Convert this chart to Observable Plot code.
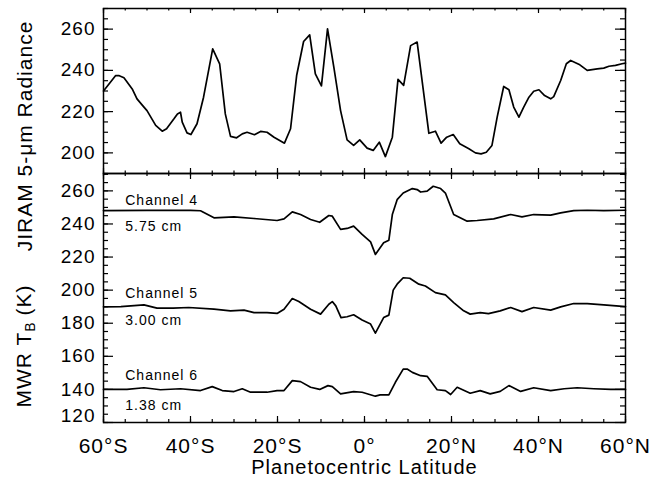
<!DOCTYPE html>
<html><head><meta charset="utf-8">
<script src="https://cdn.jsdelivr.net/npm/d3@7"></script>
<script src="https://cdn.jsdelivr.net/npm/@observablehq/plot@0.6"></script>
<style>
body{margin:0;background:#fff;}
#chart{position:relative;width:651px;height:487px;font-family:"Liberation Sans",Arial,Helvetica,sans-serif;color:#000;}
#chart svg{position:absolute;left:0;overflow:visible;}
#chart svg text{letter-spacing:1px;}
#chart svg g[aria-label="channel labels"] text{letter-spacing:0;}
.ylab{position:absolute;font-size:21px;letter-spacing:1px;white-space:nowrap;transform:translate(-50%,-50%) rotate(-90deg);}
.ylab sub{font-size:14px;vertical-align:-4px;letter-spacing:0;}
</style></head><body><div id="chart"></div>
<script>
// ---- data ----
const jiramLat = [-60,-57.2,-56.5,-55.3,-53.4,-52.3,-50.7,-50,-48,-46.5,-45.5,-43.8,-43,-42.3,-41.9,-40.8,-39.9,-38.5,-37,-34.9,-33.3,-32,-30.8,-29.4,-28.1,-27,-25.3,-23.9,-22.4,-20.8,-18.4,-17,-15.6,-14,-12.6,-11.3,-9.9,-8.5,-7.05,-5.5,-4,-2.5,-1.1,0.6,2,3.4,4.8,6.4,7.7,9,10.6,12.1,14.8,16.3,17.6,18.9,20.4,21.9,24,25.5,26.8,28,29.3,30.5,32,33.2,34.3,35.5,36.6,37.8,38.9,40.1,41.4,42.8,43.5,45.1,46.4,47.4,49.5,51.2,53.5,55,56.2,57.7,59.2,60];
const jiramRad = [230,237.5,237.5,236.4,231,226.2,222.2,220.5,213.3,210.5,211.7,216.5,218.9,219.7,214.9,209.7,208.9,214.1,227,250.4,243.2,218.9,208,207.3,209.2,210,208.8,210.4,210,207.6,204.7,211.7,237.5,254,257.2,238.3,232.5,260.1,241.6,220.5,206.3,203.6,206.3,202.3,201.2,205.2,198.2,207.6,235.6,232.7,252,253.7,209.5,210.5,204.7,207.6,208.9,204.4,202,200,199.5,200.3,203.6,217.3,232.2,230.6,222.2,217.3,222.2,227,229.9,230.6,227.8,226.2,227.3,235.1,243.2,244.8,242.7,240,240.7,241.1,242,242.4,243.2,243.5];

const ch4Lat = [-60,-50,-40,-37.7,-34.6,-30,-25.4,-20.1,-18.5,-16.6,-14.7,-12.4,-10.3,-8.2,-7.4,-5.5,-4,-2.5,-0.55,1.4,2.5,4.4,5.6,6.4,7.5,8.9,11,12.1,12.9,14.4,15.8,17.5,18.6,20.5,23.6,25.9,29.7,33.6,36.2,38.9,42.8,45.1,48.1,51.2,55,60];
const ch4Tb  = [248.1,248.2,248.2,248,243.7,244.3,243.3,242.1,243.1,247.3,245.7,242.7,241,245.1,244.7,236.7,237.3,238.7,233.7,229.2,221.6,228.6,230.2,245.7,254.7,258.7,261.4,260.8,259.3,259.8,262.8,261.4,258.7,245.7,241.7,242.1,243.1,245.7,244.3,245.7,245.3,246.7,248.1,248.3,248.1,248.3];

const ch5Lat = [-60,-56,-50.7,-47.7,-44,-40.4,-34.6,-30.8,-27.7,-25.4,-22.4,-20.1,-18.5,-16.6,-15.1,-12.4,-10.1,-8.2,-7.4,-6.6,-5.4,-4,-2.5,-0.55,1.4,2.5,4.4,5.6,6.6,7.5,8.9,10.4,12.5,14,16.3,18.6,20.5,22.8,24.3,26.6,28.5,31.2,33.6,36.2,38.9,42.8,45.1,48.1,51.2,55,60];
const ch5Tb  = [189.9,190,191.1,189.1,189.1,189.5,188.5,187.5,187.9,186.4,186.4,185.9,188.5,194.9,193.1,188.5,185.5,191.5,193.1,190.5,183.4,183.9,185.1,181.9,179.5,174,183.4,184.9,200,203.6,207.5,207.2,203.6,202.5,198.5,197.1,192.5,187.5,185.5,186.4,185.8,187.5,189.5,187,189.5,187.9,189.9,191.9,191.9,191.1,190];

const ch6Lat = [-60,-54.6,-50.7,-46.9,-42.3,-37.7,-35,-32.7,-30,-28.1,-26.2,-22.4,-20.1,-18.5,-16.6,-14.7,-12.4,-10.3,-8.4,-7.4,-5.5,-2.5,-0.55,2.5,3.6,5.6,7.1,8.9,9.8,11,12.9,14.4,16.7,18.6,19.8,21.3,24.3,26.6,28.9,31.2,33.2,35.9,38.9,42.8,45.9,48.9,52.7,56.6,60];
const ch6Tb  = [140,140,141,139.8,140.4,139.3,141.7,139.3,138.7,140.4,138.3,138.3,139.3,139.3,145.3,144.7,141.3,140,142.3,141.7,137.3,138.7,138.3,135.9,136.7,136.7,144.3,152.3,152.3,150.3,148.3,147.9,139.8,139.3,136.9,141.3,137.7,139.3,137.3,138.8,142.3,138.8,141,139.3,140.4,141,140.4,140,140];

const channelText = ["Channel 4","5.75 cm","Channel 5","3.00 cm","Channel 6","1.38 cm"];
const channelTextLat = [-55,-55,-55,-55,-55,-55];
const channelTextTb = [254.3,238.7,197.7,181.4,148.3,130.2];

const xMajorTicks = [-60,-40,-20,0,20,40,60];
const xMinorTicks = d3.range(-60,61,5);
const yTopLabels = [200,220,240,260];
const yTopMinor = d3.range(190,271,5);
const yBotLabels = [140,160,180,200,220,240,260];
const yBotLowLabel = [120];
const yBotMajor = [120,140,160,180,200,220,240,260];
const yBotMinor = d3.range(120,271,5);

// ---- layout ----
const W = 651, H_TOP = 173, H_BOT = 314;
const ML = 103, MR = 26, MT = 8, MB = 65;
const innerW = W - ML - MR;
const innerTop = H_TOP - MT;
const innerBot = H_BOT - MB;
const svgStyle = "font-family:'Liberation Sans',Arial,Helvetica,sans-serif;font-size:19px;overflow:visible;background:none;";

const toRows = (xs, ys) => xs.map((x, i) => ({lat: x, v: ys[i]}));
const fmtLat = d => d === 0 ? "0°" : Math.abs(d) + "°" + (d < 0 ? "S" : "N");

function tickMarks(innerH, yMajor, yMinor, xMajLen, xMinLen) {
  const s = {stroke: "#000", strokeWidth: 1.2};
  return [
    Plot.tickX(xMinorTicks, {x: d => d, insetBottom: innerH - xMinLen, ...s}),
    Plot.tickX(xMinorTicks, {x: d => d, insetTop: innerH - xMinLen, ...s}),
    Plot.tickX(xMajorTicks, {x: d => d, insetBottom: innerH - xMajLen, ...s}),
    Plot.tickX(xMajorTicks, {x: d => d, insetTop: innerH - xMajLen, ...s}),
    Plot.tickY(yMinor, {y: d => d, insetRight: innerW - 5, ...s}),
    Plot.tickY(yMinor, {y: d => d, insetLeft: innerW - 5, ...s}),
    Plot.tickY(yMajor, {y: d => d, insetRight: innerW - 10, ...s}),
    Plot.tickY(yMajor, {y: d => d, insetLeft: innerW - 10, ...s})
  ];
}

const topPlot = Plot.plot({
  width: W, height: H_TOP,
  marginLeft: ML, marginRight: MR, marginTop: MT, marginBottom: 0,
  style: svgStyle,
  x: {domain: [-60, 60], axis: null},
  y: {domain: [190, 270]},
  marks: [
    ...tickMarks(innerTop, yTopLabels, yTopMinor, 5, 2.5),
    Plot.axisY(yTopLabels, {tickSize: 0, tickPadding: 8, label: null}),
    Plot.line(toRows(jiramLat, jiramRad), {x: "lat", y: "v", stroke: "#000", strokeWidth: 1.7}),
    Plot.frame({stroke: "#000", strokeWidth: 1.5})
  ]
});

const botPlot = Plot.plot({
  width: W, height: H_BOT,
  marginLeft: ML, marginRight: MR, marginTop: 0, marginBottom: MB,
  style: svgStyle,
  x: {domain: [-60, 60]},
  y: {domain: [120, 270.5]},
  marks: [
    ...tickMarks(innerBot, yBotMajor, yBotMinor, 6, 3),
    Plot.axisY(yBotLabels, {tickSize: 0, tickPadding: 8, label: null}),
    Plot.axisY(yBotLowLabel, {tickSize: 0, tickPadding: 8, dy: -7, label: null}),
    Plot.axisX(xMajorTicks, {tickSize: 0, tickPadding: 16, tickFormat: fmtLat, fontSize: 21, label: null}),
    Plot.text(["Planetocentric Latitude"], {frameAnchor: "bottom", lineAnchor: "middle", dy: 45, fontSize: 20, fill: "#000"}),
    Plot.line(toRows(ch4Lat, ch4Tb), {x: "lat", y: "v", stroke: "#000", strokeWidth: 1.7}),
    Plot.line(toRows(ch5Lat, ch5Tb), {x: "lat", y: "v", stroke: "#000", strokeWidth: 1.7}),
    Plot.line(toRows(ch6Lat, ch6Tb), {x: "lat", y: "v", stroke: "#000", strokeWidth: 1.7}),
    Plot.text(channelText.map((t, i) => ({t, lat: channelTextLat[i], v: channelTextTb[i]})),
      {x: "lat", y: "v", text: "t", textAnchor: "start", fontSize: 14, fill: "#000", ariaLabel: "channel labels"}),
    Plot.frame({stroke: "#000", strokeWidth: 1.5})
  ]
});

const chart = document.getElementById("chart");
topPlot.style.top = "0px";
botPlot.style.top = H_TOP + "px";
chart.appendChild(topPlot);
chart.appendChild(botPlot);

const l1 = document.createElement("div");
l1.className = "ylab"; l1.style.left = "25px"; l1.style.top = "136px";
l1.textContent = "JIRAM 5-μm Radiance";
chart.appendChild(l1);
const l2 = document.createElement("div");
l2.className = "ylab"; l2.style.left = "25px"; l2.style.top = "346px";
l2.innerHTML = "MWR T<sub>B</sub> (K)";
chart.appendChild(l2);
</script></body></html>
